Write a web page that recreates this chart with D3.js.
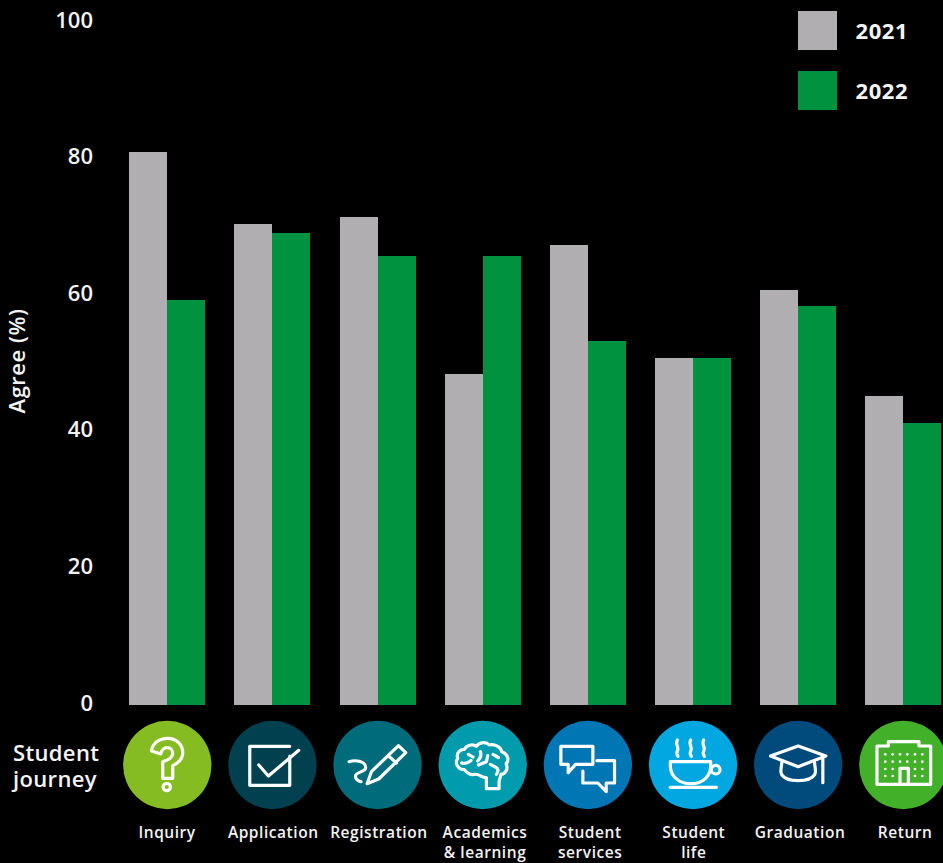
<!DOCTYPE html>
<html>
<head>
<meta charset="utf-8">
<script src="https://cdn.jsdelivr.net/npm/d3@7"></script>
<style>
  html, body { margin: 0; padding: 0; background: #000; overflow: hidden; }
  text { font-family: "Open Sans", sans-serif; fill: #f4f4f4; }
</style>
</head>
<body>
<svg id="chart" width="943" height="863"></svg>
<script>
// Survey results by stage of the student journey
const stages = ["Inquiry", "Application", "Registration", "Academics & learning",
                "Student services", "Student life", "Graduation", "Return"];
const stageLines = [["Inquiry"], ["Application"], ["Registration"], ["Academics", "& learning"],
                    ["Student", "services"], ["Student", "life"], ["Graduation"], ["Return"]];
const years = ["2021", "2022"];
const values2021 = [81, 70.4, 71.4, 48.5, 67.3, 50.8, 60.8, 45.2];
const values2022 = [59.3, 69.1, 65.7, 65.7, 53.3, 50.8, 58.4, 41.3];
const yTicks = [0, 20, 40, 60, 80, 100];
const yearColors = ["#b0aeb0", "#00923f"];
const stageColors = ["#85bc22", "#00404f", "#006c7b", "#009cad", "#0076b4", "#00a7e1", "#004a7c", "#43b02a"];
const labelNudge = [0, 1, 1.5, 2.5, 2.5, 1, 2, 2];

// Icon outlines, drawn on a 270-unit grid with their own origin
const buildingDots = [];
[100, 122].forEach(y => [96, 118, 140, 162, 185, 207].forEach(x => buildingDots.push([x, y])));
[144, 165].forEach(y => [96, 118, 185, 207].forEach(x => buildingDots.push([x, y])));

const icons = [
  { ox: 133.5, paths: ["M86,90 C90,65 110,52 135,52 C162,52 180,72 180,96 C180,115 166,126 150,134 L150,172 L120,172 L120,122 C135,118 150,110 150,97 C150,86 142,80 133,80 C124,80 116,88 114,99 Z"],
    circles: [[132, 198, 11]] },
  { ox: 135, paths: ["M187,105 V193 H67 V76 H187", "M94,132 L123,165 L214,88"], circles: [] },
  { ox: 133.5, paths: ["M48,122 C70,115 98,122 98,140 C97,155 66,152 67,166 C68,176 76,180 84,182",
                       "M102,188 L115,152 L196,74 L218,95 L137,174 Z", "M168,106 L190,126"], circles: [] },
  { ox: 135, paths: ["M146,203 L146,170 C130,170 125,158 110,160 C95,164 85,152 80,146 C60,146 50,126 60,112 C54,96 68,84 80,85 C86,72 105,68 116,76 C126,62 146,62 155,72 C170,68 190,78 192,92 C210,98 216,118 205,128 C212,142 205,158 190,160 L184,180 L184,203 Z",
                       "M72,126 C84,130 94,124 100,118 M92,100 L106,108", "M128,92 C132,104 126,114 120,120 M122,132 L146,122 L150,104",
                       "M166,100 L182,110 M158,130 L176,140 C186,146 178,156 176,160"], circles: [] },
  { ox: 135, paths: ["M54,76 H150 V130 H98 L76,155 V130 H54 Z", "M162,119 H215 V186 H190 V212 L165,186 H120 V150"], circles: [] },
  { ox: 135, paths: ["M88,57 C80,70 95,80 88,90 C84,97 86,100 90,106", "M128,57 C120,70 135,80 128,90 C124,97 126,100 130,106",
                     "M167,57 C159,70 174,80 167,90 C163,97 165,100 169,106",
                     "M67,122 H188 V135 C188,165 165,188 128,188 C92,188 67,165 67,135 Z", "M67,199 H205"],
    circles: [[203, 146, 13]] },
  { ox: 135, paths: ["M52,105 L135,75 L218,105 L135,137 Z", "M209,108 V185",
                     "M86,122 C86,135 80,150 85,160 C100,185 170,185 185,160 C190,150 184,135 184,122"], circles: [] },
  { ox: 150, paths: ["M71,190 V75 H105 V62 H197 V75 H232 V190 Z", "M140,190 V142 H165 V190"], circles: [], dots: buildingDots }
];

const svg = d3.select("#chart");
svg.append("rect").attr("width", 943).attr("height", 863).attr("fill", "#000");

const x = d3.scaleBand().domain(stages).range([114.7, 955.9]).paddingInner(0.277).paddingOuter(0.1385);
const xYear = d3.scaleBand().domain(years).range([0, x.bandwidth()]);
const y = d3.scaleLinear().domain([0, 100]).range([705, 22]);

// Value axis: labels only, no line or tick marks
const yAxis = svg.append("g").attr("transform", "translate(93,0)")
  .call(d3.axisLeft(y).tickValues(yTicks).tickSize(0).tickPadding(0));
yAxis.select(".domain").remove();
yAxis.selectAll("text")
  .attr("dy", "0.32em").attr("y", -2)
  .style("font-family", '"Open Sans", sans-serif').style("font-size", "22px").style("font-weight", 600).attr("fill", "#f4f4f4");

svg.append("text")
  .attr("transform", "translate(25,361) rotate(-90)")
  .attr("text-anchor", "middle")
  .style("font-size", "22px").style("font-weight", 600).style("letter-spacing", "0.5px")
  .text("Agree (%)");

// Paired bars per stage
[values2021, values2022].forEach((vals, i) => {
  svg.append("g").attr("shape-rendering", "crispEdges").selectAll("rect").data(vals).join("rect")
    .attr("x", (d, k) => x(stages[k]) + xYear(years[i]))
    .attr("width", xYear.bandwidth())
    .attr("y", d => y(d))
    .attr("height", d => y(0) - y(d))
    .attr("fill", yearColors[i]);
});

// Legend
years.forEach((yr, i) => {
  const top = 11 + i * 60;
  svg.append("rect").attr("x", 798).attr("y", top).attr("width", 39).attr("height", 39).attr("fill", yearColors[i]);
  svg.append("text").attr("x", 855.5).attr("y", top + 28)
    .style("font-size", "22px").style("font-weight", 700).style("letter-spacing", "0.6px").attr("fill", "#fff").text(yr);
});

// Stage icons on coloured discs
const iconRow = 765;
stages.forEach((s, i) => {
  const cx = x(s) + x.bandwidth() / 2;
  const g = svg.append("g");
  g.append("circle").attr("cx", cx).attr("cy", iconRow).attr("r", 44.2).attr("fill", stageColors[i]);
  const art = g.append("g")
    .attr("transform", `translate(${cx},${iconRow}) scale(${1 / 3}) translate(${-icons[i].ox},-132)`)
    .attr("fill", "none").attr("stroke", "#fff").attr("stroke-width", 9.5)
    .attr("stroke-linecap", "round").attr("stroke-linejoin", "round");
  icons[i].paths.forEach(p => art.append("path").attr("d", p));
  icons[i].circles.forEach(c => art.append("circle").attr("cx", c[0]).attr("cy", c[1]).attr("r", c[2]));
  (icons[i].dots || []).forEach(d => art.append("circle").attr("cx", d[0]).attr("cy", d[1]).attr("r", 4).attr("fill", "#fff").attr("stroke", "none"));

  const label = svg.append("text").attr("text-anchor", "middle")
    .style("font-size", "15.5px").style("font-weight", 600).style("letter-spacing", "0.55px");
  stageLines[i].forEach((line, j) => {
    label.append("tspan").attr("x", cx - 0.2 + labelNudge[i]).attr("y", 838 + j * 20).text(line);
  });
});

// Row heading for the icon strip
const heading = svg.append("text").style("font-size", "22px").style("font-weight", 600).style("letter-spacing", "0.35px");
["Student", "journey"].forEach((line, j) => {
  heading.append("tspan").attr("x", 13).attr("y", 761 + j * 26).text(line);
});
</script>
</body>
</html>
